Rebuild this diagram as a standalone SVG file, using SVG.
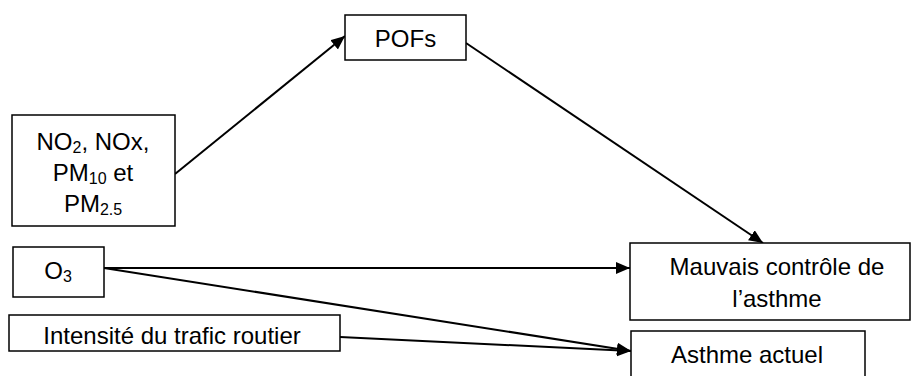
<svg xmlns="http://www.w3.org/2000/svg" width="912" height="376" viewBox="0 0 912 376">
<style>
.box{fill:#fff;stroke:#000;stroke-width:1.5}
.t{font-family:"Liberation Sans",Arial,sans-serif;font-size:24px;fill:#000;text-anchor:middle}
.sub{font-size:16px}
.c{stroke:#000;stroke-width:2;fill:none}
</style>
<defs>
<marker id="ah" markerUnits="userSpaceOnUse" markerWidth="16" markerHeight="14" refX="14" refY="6" orient="auto">
<path d="M0,0 L14,6 L0,12 z" fill="#000"/>
</marker>
</defs>
<rect width="912" height="376" fill="#fff"/>
<g id="connectors">
<line class="c" x1="175" y1="174" x2="345" y2="36" marker-end="url(#ah)"/>
<line class="c" x1="466" y1="43" x2="763" y2="243" marker-end="url(#ah)"/>
<line class="c" x1="104" y1="268" x2="630" y2="268" marker-end="url(#ah)"/>
<line class="c" x1="104" y1="268" x2="631" y2="351" marker-end="url(#ah)"/>
<line class="c" x1="340" y1="337" x2="631" y2="351" marker-end="url(#ah)"/>
</g>
<g id="node-no2">
<rect class="box" x="12" y="115" width="163" height="111"/>
<text class="t" x="93" y="150">NO<tspan class="sub" dy="3">2</tspan><tspan dy="-3">, NOx,</tspan></text>
<text class="t" x="93" y="181">PM<tspan class="sub" dy="3">10</tspan><tspan dy="-3"> et</tspan></text>
<text class="t" x="93" y="212">PM<tspan class="sub" dy="3">2.5</tspan></text>
</g>
<g id="node-pofs">
<rect class="box" x="345" y="15" width="121" height="45"/>
<text class="t" x="405.5" y="47">POFs</text>
</g>
<g id="node-o3">
<rect class="box" x="13" y="247" width="91" height="50"/>
<text class="t" x="58" y="279">O<tspan class="sub" dy="3">3</tspan></text>
</g>
<g id="node-trafic">
<rect class="box" x="9" y="315" width="331" height="36"/>
<text class="t" x="172" y="344">Intensité du trafic routier</text>
</g>
<g id="node-mauvais">
<rect class="box" x="630" y="243" width="280" height="77"/>
<text class="t" x="777" y="275">Mauvais contrôle de</text>
<text class="t" x="777" y="307">l’asthme</text>
</g>
<g id="node-asthme">
<rect class="box" x="631" y="331" width="234" height="50"/>
<text class="t" x="747" y="363">Asthme actuel</text>
</g>
</svg>
